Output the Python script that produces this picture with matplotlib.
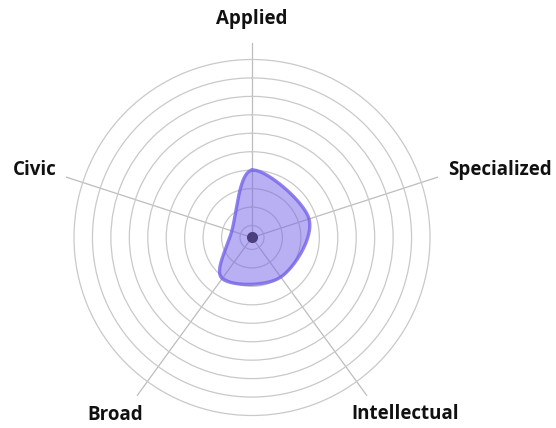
import numpy as np
import matplotlib
matplotlib.use('Agg')
import matplotlib.pyplot as plt

# data
categories = ["Applied", "Specialized", "Intellectual", "Broad", "Civic"]
values = [4.0, 3.6, 3.0, 3.1, 1.5]
ring_levels = [1, 2, 3, 4, 5, 6, 7, 8, 9]

# layout (radius units, angle in degrees clockwise from top)
r_center = 0.35
r_outer = 10.0
r_spoke = 10.92
label_pos = [(0.0, 12.2), (74.7, 14.3), (139.1, 13.0), (217.6, 12.5), (287.3, 12.7)]

fill_col = "#7463ea"
grid_col = "#c9c9c9"

fig = plt.figure(figsize=(5.56, 4.28), dpi=100)
ax = fig.add_axes([0.1331, 0.0292, 0.6403, 0.8318], projection='polar')
ax.set_theta_zero_location('N')
ax.set_theta_direction(-1)
ax.set_ylim(r_center, r_outer)

ax.set_rticks(ring_levels)
ax.set_yticklabels([])
ax.set_xticks([])
ax.grid(axis='y', color=grid_col, linewidth=0.9)
ax.spines['polar'].set_color(grid_col)
ax.spines['polar'].set_linewidth(0.9)

n = len(categories)
angles = np.arange(n) * 2 * np.pi / n

# spokes
for a in angles:
    ax.plot([a, a], [r_center, r_spoke], color="#bdbdbd", linewidth=0.9,
            clip_on=False, zorder=1)

# smooth closed curve (catmull-rom through the points, in screen space)
rr = np.array(values) - r_center
px = rr * np.sin(angles)
py = rr * np.cos(angles)
pts = np.column_stack([px, py])
curve = []
t = np.linspace(0, 1, 40, endpoint=False)[:, None]
for i in range(n):
    p0, p1, p2, p3 = pts[i - 1], pts[i], pts[(i + 1) % n], pts[(i + 2) % n]
    seg = 0.5 * ((2 * p1) + (-p0 + p2) * t + (2 * p0 - 5 * p1 + 4 * p2 - p3) * t ** 2
                 + (-p0 + 3 * p1 - 3 * p2 + p3) * t ** 3)
    curve.append(seg)
curve = np.vstack(curve + [curve[0][:1]])
c_theta = np.arctan2(curve[:, 0], curve[:, 1])
c_r = np.hypot(curve[:, 0], curve[:, 1]) + r_center

ax.fill(c_theta, c_r, color=fill_col, alpha=0.5, zorder=3, linewidth=0)
ax.plot(c_theta, c_r, color=fill_col, alpha=0.8, linewidth=2.4, zorder=4)

# center dot
ax.plot([0], [r_center], 'o', color="#4b3f7f", markersize=7, zorder=5)

for name, (deg, r) in zip(categories, label_pos):
    ax.text(np.deg2rad(deg), r, name, ha='center', va='center',
            fontsize=13.5, fontweight='bold', family='Open Sans', color="#111111")

fig.savefig("out.png", dpi=100)
